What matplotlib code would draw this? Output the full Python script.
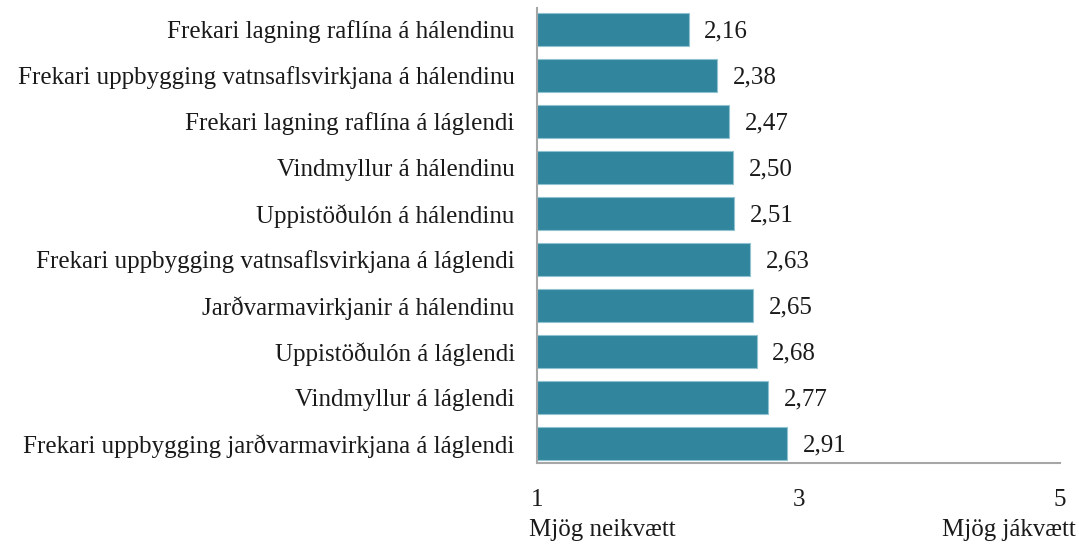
import matplotlib
matplotlib.use("Agg")
import matplotlib.pyplot as plt
from matplotlib.transforms import blended_transform_factory

categories = [
    "Frekari lagning raflína á hálendinu",
    "Frekari uppbygging vatnsaflsvirkjana á hálendinu",
    "Frekari lagning raflína á láglendi",
    "Vindmyllur á hálendinu",
    "Uppistöðulón á hálendinu",
    "Frekari uppbygging vatnsaflsvirkjana á láglendi",
    "Jarðvarmavirkjanir á hálendinu",
    "Uppistöðulón á láglendi",
    "Vindmyllur á láglendi",
    "Frekari uppbygging jarðvarmavirkjana á láglendi",
]
values = [2.16, 2.38, 2.47, 2.50, 2.51, 2.63, 2.65, 2.68, 2.77, 2.91]
x_ticks = [1, 3, 5]
x_end_labels = ["Mjög neikvætt", "Mjög jákvætt"]

plt.rcParams['font.family'] = ['Liberation Serif', 'DejaVu Serif']
fs = 18

fig = plt.figure(figsize=(10.79, 5.47), dpi=100)
ax = fig.add_axes([537/1079, 1 - 463/547, (1060-537)/1079, (463-8)/547])

pos = list(range(len(categories)))
ax.barh(pos, [v - 1 for v in values], left=1, height=0.72,
        color="#31859C", edgecolor="#8fc3d1", linewidth=0.8)
for p, v in zip(pos, values):
    ax.text(v + 0.12, p, f"{v:.2f}".replace(".", ","), va="center_baseline", ha="left",
            fontsize=fs, color="#1a1a1a")

ax.set_xlim(1, 5)
ax.set_ylim(9.43, -0.46)
ax.set_yticks(pos)
ax.set_yticklabels(categories, fontsize=fs, color="#1a1a1a", va="center_baseline")
ax.set_xticks(x_ticks)
ax.set_xticklabels([str(t) for t in x_ticks], fontsize=fs, color="#1a1a1a")
ax.tick_params(axis="both", length=0)
ax.tick_params(axis="x", pad=19)
ax.tick_params(axis="y", pad=16)
for s in ["top", "right"]:
    ax.spines[s].set_visible(False)
for s in ["left", "bottom"]:
    ax.spines[s].set_color("#a6a6a6")
    ax.spines[s].set_linewidth(1.5)

tr = blended_transform_factory(ax.transData, fig.transFigure)
ax.text(1 - 0.06, 1 - 530/547, x_end_labels[0], transform=tr, ha="left", va="center",
        fontsize=fs, color="#1a1a1a")
ax.text(5 + 0.12, 1 - 530/547, x_end_labels[1], transform=tr, ha="right", va="center",
        fontsize=fs, color="#1a1a1a")

fig.savefig("out.png", dpi=100)
